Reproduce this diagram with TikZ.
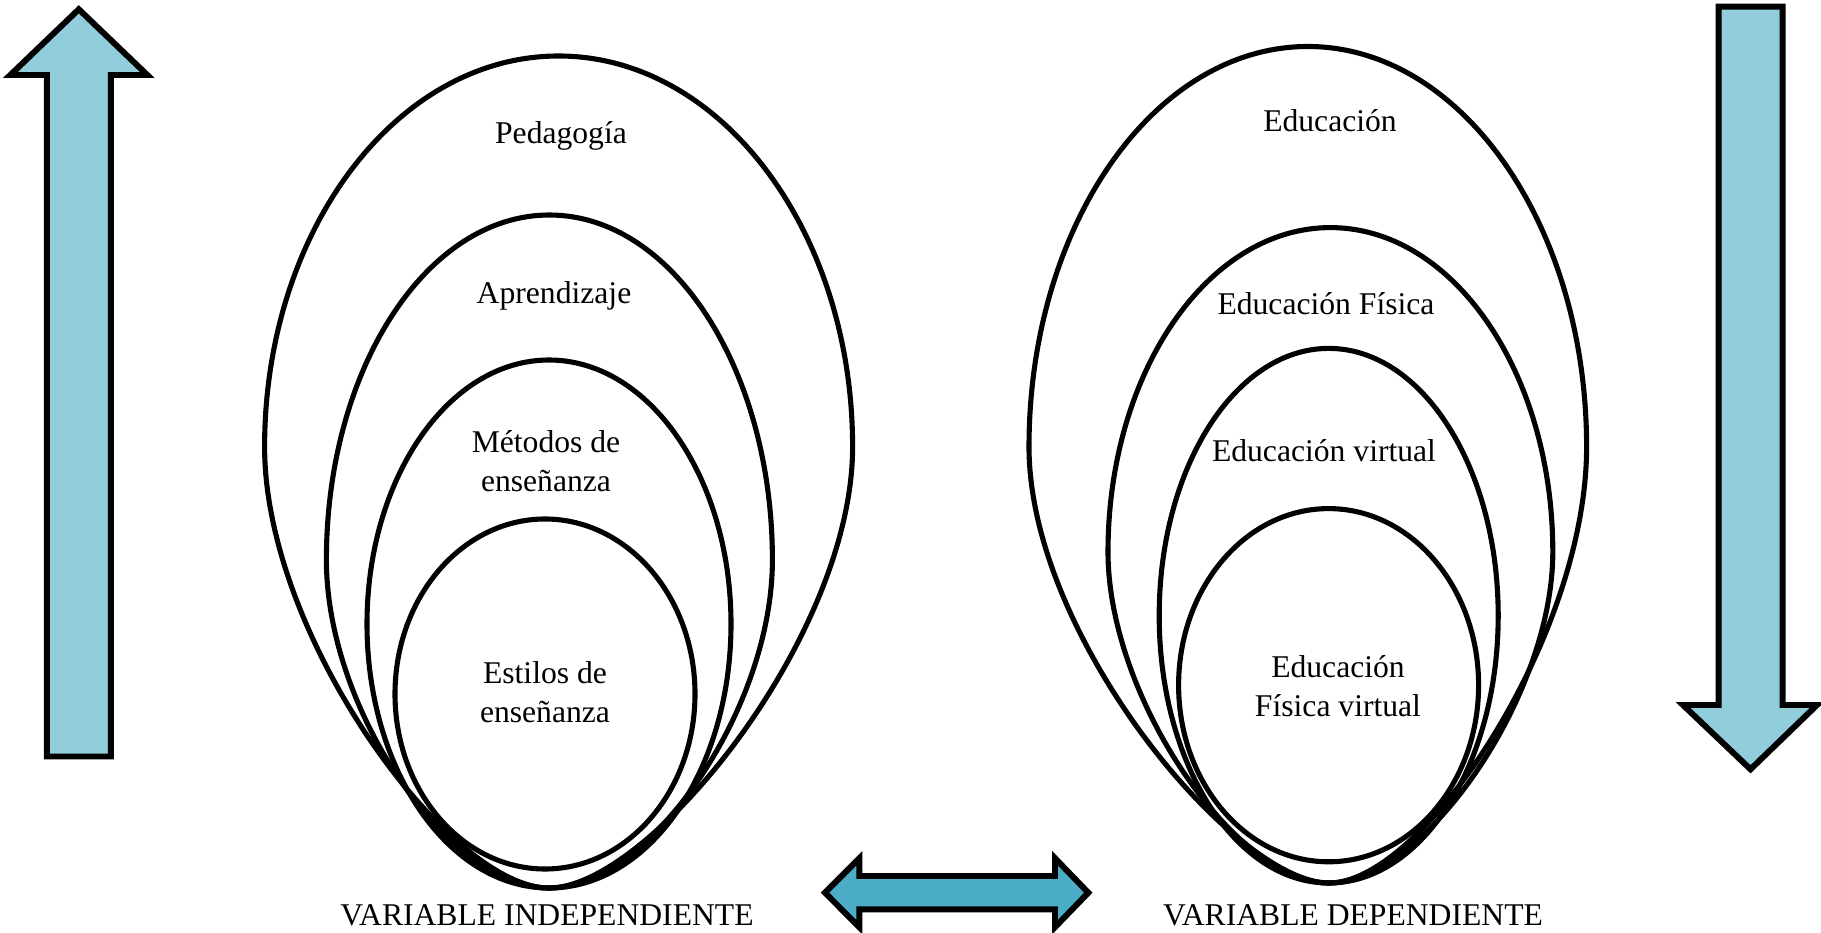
\documentclass[tikz,border=0pt]{standalone}
\usepackage{fontspec}
\setmainfont{Liberation Serif}
\usetikzlibrary{positioning}
\usetikzlibrary{calc}
\definecolor{arrowlight}{HTML}{92CDDC}
\definecolor{arrowteal}{HTML}{4BACC6}
% egg: centre of upper half, radii, bottom point, side pull, bottom pull
\newcommand\eggring[7]{%
  \draw[ring] (#5) .. controls +(-#7,0) and +(0,-#6) .. ({#1-#3},#2)
    arc[start angle=180, end angle=0, x radius=#3, y radius=#4]
    .. controls +(0,-#6) and +(#7,0) .. (#5) -- cycle;
}
\tikzset{
  ring/.style={draw=black, line width=1.45pt},
  blockarrow/.style={draw=black, line width=1.7pt, line join=miter, fill=#1},
}

\begin{document}
\begin{tikzpicture}[
	every node/.style={font=\fontsize{9}{11.2}\selectfont, inner sep=0pt},
	label/.style={align=center}]
	\useasboundingbox (0,0) rectangle (18.21,9.32);

	% bottom points and ellipse centres
	\coordinate (Bl) at (5.49,0.44);
	\coordinate (Cmet) at (5.49,3.08);
	\coordinate (Cest) at (5.45,2.38);
	\coordinate (Br) at (13.29,0.49);
	\coordinate (Cvir) at (13.287,3.163);
	\coordinate (Cfv) at (13.286,2.468);

	% independent variable rings
	\eggring{5.586}{4.85}{2.94}{3.91}{Bl}{1.9}{1.0}
	\eggring{5.494}{3.72}{2.23}{3.45}{Bl}{1.5}{1.0}
	\draw[ring] (Cmet) ellipse [x radius=1.82, y radius=2.64];
	\draw[ring] (Cest) ellipse [x radius=1.50, y radius=1.75];

	% dependent variable rings
	\eggring{13.078}{4.85}{2.788}{4.005}{Br}{1.9}{0.94}
	\eggring{13.304}{3.80}{2.224}{3.244}{Br}{1.45}{0.94}
	\draw[ring] (Cvir) ellipse [x radius=1.695, y radius=2.673];
	\draw[ring] (Cfv) ellipse [x radius=1.50, y radius=1.766];

	% ring labels
	\node[label] (ped) at (5.61,7.96) {Pedagogía};
	\node[label] (apr) at (5.54,6.36) {Aprendizaje};
	\node[label] (met) at (5.46,4.71) {Métodos de\\enseñanza};
	\node[label] (est) at (5.45,2.40) {Estilos de\\enseñanza};
	\node[label] (edu) at (13.30,8.11) {Educación};
	\node[label] (edf) at (13.26,6.28) {Educación Física};
	\node[label] (edv) at (13.24,4.81) {Educación virtual};
	\node[label] (efv) at (13.38,2.46) {Educación\\Física virtual};

	% variable names
	\node (vind) at (5.47,0.17) {VARIABLE INDEPENDIENTE};
	\node (vdep) at (13.53,0.17) {VARIABLE DEPENDIENTE};

	% up arrow
	\draw[blockarrow=arrowlight] (0.468,1.755) -- (0.468,8.57) -- (0.103,8.57)
	  -- (0.788,9.227) -- (1.473,8.57) -- (1.108,8.57) -- (1.108,1.755) -- cycle;
	% down arrow
	\draw[blockarrow=arrowlight] (17.187,9.253) -- (17.827,9.253) -- (17.827,2.27)
	  -- (18.17,2.27) -- (17.505,1.627) -- (16.83,2.27) -- (17.187,2.27) -- cycle;
	% double arrow
	\draw[blockarrow=arrowteal] (8.25,0.393) -- (8.593,0.738) -- (8.593,0.56)
	  -- (10.55,0.56) -- (10.55,0.738) -- (10.883,0.393) -- (10.55,0.048)
	  -- (10.55,0.226) -- (8.593,0.226) -- (8.593,0.048) -- cycle;
\end{tikzpicture}
\end{document}
